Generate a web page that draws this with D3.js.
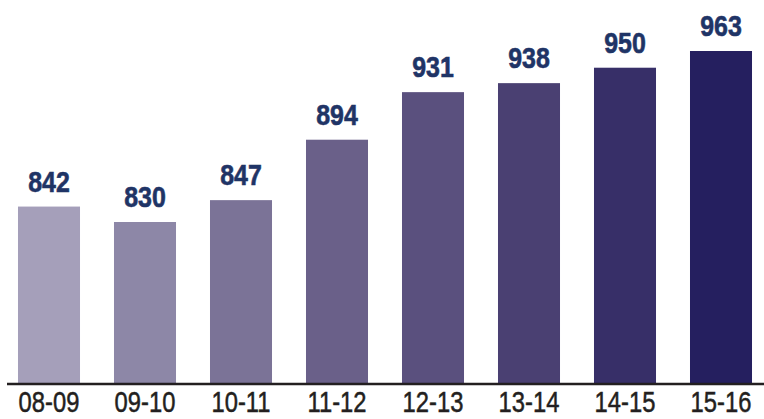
<!DOCTYPE html>
<html>
<head>
<meta charset="utf-8">
<script src="https://cdn.jsdelivr.net/npm/d3@7"></script>
<style>
  html, body { margin: 0; padding: 0; background: #fff; }
  svg { display: block; }
</style>
</head>
<body>
<svg class="chart" width="764" height="419"></svg>
<script>
// data
var seasons = ["08-09", "09-10", "10-11", "11-12", "12-13", "13-14", "14-15", "15-16"];
var totals = [842, 830, 847, 894, 931, 938, 950, 963];
var barColours = ["#a59fba", "#8d87a7", "#7b7397", "#6a6089", "#5a507e", "#4a4072", "#372f68", "#251f5f"];

var svg = d3.select("svg.chart"),
    width = +svg.attr("width"),
    height = +svg.attr("height");

var baseline = 384;

// band scale: bars 62px wide on a 96px pitch
var x = d3.scaleBand()
    .domain(seasons)
    .range([1, 769])
    .paddingInner(0.354)
    .paddingOuter(0.177);

// value axis is not zero-based in the original
var y = d3.scaleLinear()
    .domain([704, 963])
    .range([baseline, baseline - 333]);

var rows = seasons.map((s, i) => ({ season: s, value: totals[i], colour: barColours[i] }));

// bars
svg.append("g")
    .attr("class", "bars")
    .selectAll("rect")
    .data(rows)
    .enter().append("rect")
    .attr("x", (d) => x(d.season))
    .attr("y", (d) => y(d.value))
    .attr("width", x.bandwidth())
    .attr("height", (d) => baseline - y(d.value))
    .attr("fill", (d) => d.colour);

// value labels (condensed look: squeeze a bold sans horizontally)
svg.append("g")
    .attr("class", "values")
    .selectAll("text")
    .data(rows)
    .enter().append("text")
    .attr("transform", (d) => `translate(${x(d.season) + x.bandwidth() / 2}, ${y(d.value) - 15}) scale(0.86, 1)`)
    .attr("text-anchor", "middle")
    .style("font-family", "'Liberation Sans', Arial, sans-serif")
    .style("font-weight", "bold")
    .style("font-size", "29px")
    .attr("fill", "#1f3466")
    .attr("stroke", "#1f3466")
    .attr("stroke-width", 0.6)
    .text((d) => d.value);

// x axis
var xAxis = svg.append("g")
    .attr("class", "x-axis")
    .attr("transform", `translate(0, ${baseline})`)
    .call(d3.axisBottom(x).tickSize(0).tickPadding(7));

xAxis.select(".domain").remove();
xAxis.append("line")
    .attr("x1", 7)
    .attr("x2", width)
    .attr("y1", 0)
    .attr("y2", 0)
    .attr("stroke", "#231f20")
    .attr("stroke-width", 2.5);

xAxis.selectAll("text")
    .attr("dy", "0.71em")
    .attr("transform", "scale(0.82, 1)")
    .style("font-family", "'Liberation Sans', Arial, sans-serif")
    .style("font-size", "29px")
    .attr("fill", "#231f20")
    .attr("stroke", "#231f20")
    .attr("stroke-width", 0.5);
</script>
</body>
</html>
